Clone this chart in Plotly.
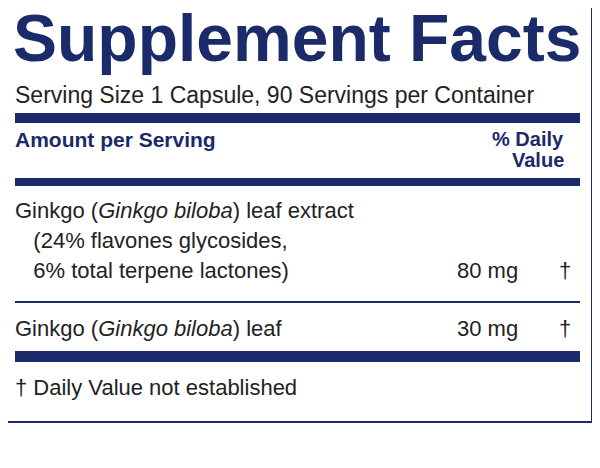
import plotly.graph_objects as go

title = "Supplement Facts"
serving = "Serving Size 1 Capsule, 90 Servings per Container"
header_left = "Amount per Serving"
header_right = ["% Daily", "Value"]
ingredient_lines = [
    ["Ginkgo (<i>Ginkgo biloba</i>) leaf extract", "  (24% flavones glycosides,", "  6% total terpene lactones)"],
    ["Ginkgo (<i>Ginkgo biloba</i>) leaf"],
]
amounts = ["80 mg", "30 mg"]
daily_values = ["†", "†"]
footnote = "† Daily Value not established"
other = "Other ingredients: Vegan capsule (HPMC, water), l-leucine."

NAVY = "#1b2a68"
TXT = "#222222"
F = "Liberation Sans, Arial, sans-serif"

fig = go.Figure()
fig.update_layout(width=600, height=468, margin=dict(l=0, r=0, t=0, b=0),
                  paper_bgcolor="white", plot_bgcolor="white", showlegend=False,
                  xaxis=dict(range=[8, 608], visible=False, fixedrange=True),
                  yaxis=dict(range=[476, 8], visible=False, fixedrange=True))

def rect(x0, y0, x1, y1, fill=None, line=None, w=0):
    fig.add_shape(type="rect", x0=x0, y0=y0, x1=x1, y1=y1, xref="x", yref="y",
                  fillcolor=fill or "rgba(0,0,0,0)",
                  line=dict(color=line or "rgba(0,0,0,0)", width=w))

def txt(x, y, s, size=18, color=TXT, anchor="left", bold=False):
    if bold:
        s = "<b>" + s + "</b>"
    fig.add_annotation(x=x, y=y, text=s, showarrow=False, xref="x", yref="y",
                       xanchor=anchor, yanchor="middle",
                       font=dict(family=F, size=size, color=color))

rect(5, 3, 592, 422, line=NAVY, w=2)
txt(297, 38, title, size=66, color=NAVY, anchor="center", bold=True)
txt(13, 95, serving, size=23)
rect(15, 113, 580, 123, fill=NAVY)
txt(13, 139, header_left, size=21, color=NAVY, bold=True)
txt(566, 139, header_right[0], size=20, color=NAVY, anchor="right", bold=True)
txt(566, 160, header_right[1], size=20, color=NAVY, anchor="right", bold=True)
rect(15, 178, 580, 186, fill=NAVY)

y = 210
row_h = 30
for i, lines in enumerate(ingredient_lines):
    for j, l in enumerate(lines):
        txt(13, y + j * row_h, l.replace("  ", "&nbsp;&nbsp;&nbsp;"), size=22)
    last = y + (len(lines) - 1) * row_h
    txt(520, last, amounts[i], size=22, anchor="right")
    txt(565, last, daily_values[i], size=22, anchor="center")
    if i < len(ingredient_lines) - 1:
        fig.add_shape(type="line", x0=15, x1=580, y0=302, y1=302, xref="x", yref="y",
                      line=dict(color=NAVY, width=2))
        y = 328
rect(15, 351, 580, 362, fill=NAVY)
txt(13, 387, footnote, size=22)
txt(2, 448, other, size=21)

fig.write_html("out.html")
